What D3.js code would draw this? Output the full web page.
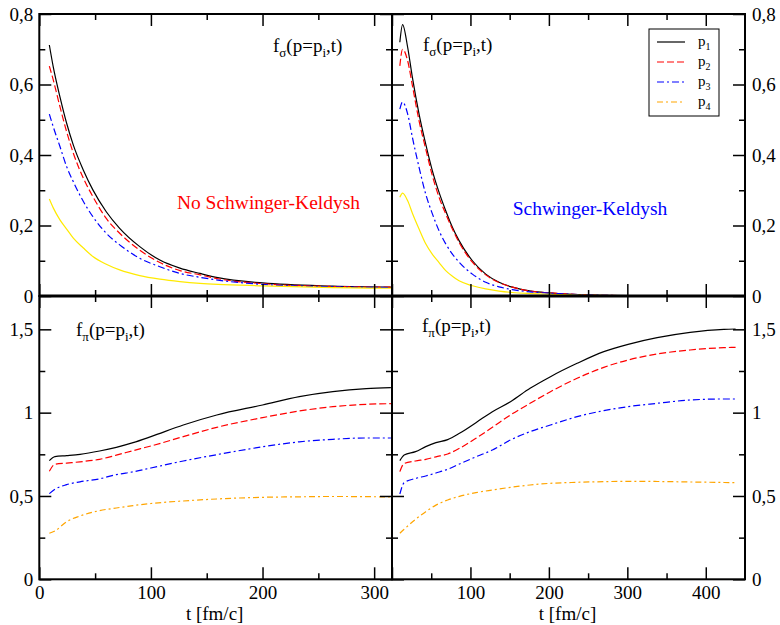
<!DOCTYPE html>
<html>
<head>
<meta charset="utf-8">
<script src="https://cdn.jsdelivr.net/npm/d3@7"></script>
<style>
  body { margin: 0; background: #fff; }
  svg text { font-family: "Liberation Serif", "Times New Roman", serif; }
</style>
</head>
<body>
<svg id="chart" width="780" height="625" font-family="Liberation Serif, serif"></svg>
<script>
// ---- data ----
// f_sigma, no Schwinger-Keldysh (top left)
const tSigmaNoSK = [9, 12.5, 18.5, 24.5, 30.5, 39.5, 48, 60, 72, 90, 108, 126, 144, 160, 200, 263, 315];
const sigmaNoSK_p1 = [0.712, 0.65, 0.565, 0.49, 0.428, 0.357, 0.301, 0.239, 0.192, 0.14, 0.102, 0.079, 0.064, 0.052, 0.037, 0.028, 0.025];
const sigmaNoSK_p2 = [0.652, 0.613, 0.537, 0.466, 0.405, 0.334, 0.282, 0.22, 0.178, 0.13, 0.095, 0.072, 0.06, 0.049, 0.035, 0.027, 0.025];
const sigmaNoSK_p3 = [0.516, 0.48, 0.424, 0.367, 0.324, 0.268, 0.225, 0.178, 0.145, 0.107, 0.083, 0.064, 0.053, 0.045, 0.033, 0.026, 0.024];
const sigmaNoSK_p4 = [0.275, 0.25, 0.216, 0.19, 0.164, 0.136, 0.112, 0.09, 0.074, 0.058, 0.048, 0.041, 0.036, 0.033, 0.029, 0.024, 0.022];

// f_sigma, Schwinger-Keldysh (top right)
const tSigmaSK = [10, 13.5, 20, 26, 34.5, 43, 51.5, 60, 68.5, 77, 85.5, 102.5, 119.5, 136.5, 153.5, 179, 200, 250, 300, 350, 438];
const sigmaSK_p1 = [0.72, 0.77, 0.705, 0.62, 0.516, 0.431, 0.355, 0.294, 0.242, 0.195, 0.157, 0.1, 0.062, 0.039, 0.025, 0.013, 0.009, 0.003, 0.001, 0.0005, 0];
const sigmaSK_p2 = [0.653, 0.70, 0.667, 0.597, 0.497, 0.417, 0.341, 0.28, 0.233, 0.19, 0.152, 0.096, 0.06, 0.038, 0.025, 0.013, 0.009, 0.003, 0.001, 0.0005, 0];
const sigmaSK_p3 = [0.53, 0.55, 0.516, 0.45, 0.365, 0.289, 0.233, 0.185, 0.148, 0.119, 0.096, 0.062, 0.039, 0.026, 0.018, 0.011, 0.008, 0.003, 0.001, 0.0005, 0];
const sigmaSK_p4 = [0.28, 0.292, 0.27, 0.235, 0.19, 0.148, 0.118, 0.095, 0.072, 0.056, 0.043, 0.029, 0.02, 0.014, 0.01, 0.007, 0.005, 0.002, 0.001, 0.0005, 0];

// f_pi, no Schwinger-Keldysh (bottom left)
const tPiNoSK = [9, 14, 24.5, 36.5, 54, 69, 84, 100, 129, 159, 200, 233, 263, 293, 315];
const piNoSK_p1 = [0.712, 0.736, 0.742, 0.75, 0.77, 0.792, 0.82, 0.856, 0.926, 0.986, 1.046, 1.096, 1.126, 1.144, 1.15];
const piNoSK_p2 = [0.648, 0.69, 0.697, 0.705, 0.72, 0.745, 0.772, 0.80, 0.856, 0.912, 0.97, 1.01, 1.036, 1.05, 1.054];
const piNoSK_p3 = [0.514, 0.54, 0.568, 0.585, 0.603, 0.628, 0.645, 0.668, 0.71, 0.748, 0.795, 0.825, 0.84, 0.848, 0.848];
const piNoSK_p4 = [0.276, 0.29, 0.346, 0.38, 0.412, 0.428, 0.442, 0.455, 0.47, 0.482, 0.492, 0.495, 0.497, 0.496, 0.494];

// f_pi, Schwinger-Keldysh (bottom right)
const tPiSK = [10, 15.5, 30, 43, 56, 71, 86, 107, 128, 151, 176, 202, 236, 270, 301, 338, 380, 423, 438];
const piSK_p1 = [0.712, 0.746, 0.766, 0.796, 0.82, 0.838, 0.876, 0.94, 1.006, 1.066, 1.146, 1.216, 1.296, 1.366, 1.41, 1.45, 1.482, 1.5, 1.502];
const piSK_p2 = [0.646, 0.695, 0.71, 0.72, 0.735, 0.752, 0.786, 0.846, 0.912, 0.986, 1.056, 1.126, 1.206, 1.272, 1.316, 1.352, 1.376, 1.39, 1.392];
const piSK_p3 = [0.512, 0.58, 0.605, 0.62, 0.638, 0.66, 0.692, 0.735, 0.776, 0.836, 0.886, 0.926, 0.976, 1.012, 1.036, 1.056, 1.076, 1.082, 1.082];
const piSK_p4 = [0.276, 0.30, 0.36, 0.406, 0.445, 0.476, 0.498, 0.52, 0.536, 0.552, 0.566, 0.576, 0.582, 0.586, 0.588, 0.587, 0.584, 0.581, 0.58];

const legendNames = ["1", "2", "3", "4"];

// ---- layout ----
const plotLeft = 39.3, plotMid = 392, plotRight = 745;
const plotTop = 14, plotHMid = 296, plotBottom = 579.3;
const serif = '"Liberation Serif", "Times New Roman", serif';

const svg = d3.select("#chart");

const xLeft = d3.scaleLinear().domain([0, 316]).range([plotLeft, plotMid]);
const xRight = d3.scaleLinear().domain([0, 450]).range([plotMid, plotRight]);
const ySigma = d3.scaleLinear().domain([0, 0.8]).range([plotHMid, plotTop]);
const yPi = d3.scaleLinear().domain([0, 1.7]).range([plotBottom, plotHMid]);

const lineStyles = [
  { color: "#000000", dash: null },
  { color: "#ff0000", dash: "7,3" },
  { color: "#0000ff", dash: "7,3,2,3" },
  { color: "#ffa500", dash: "6,3,2,3" }
];
const yellow = { color: "#ffea00", dash: null };

const comma = d => String(+d.toFixed(2)).replace(".", ",");

const panels = [
  { id: "tl", x: xLeft, y: ySigma, t: tSigmaNoSK, series: [sigmaNoSK_p1, sigmaNoSK_p2, sigmaNoSK_p3, sigmaNoSK_p4], upper: true, side: "left" },
  { id: "tr", x: xRight, y: ySigma, t: tSigmaSK, series: [sigmaSK_p1, sigmaSK_p2, sigmaSK_p3, sigmaSK_p4], upper: true, side: "right" },
  { id: "bl", x: xLeft, y: yPi, t: tPiNoSK, series: [piNoSK_p1, piNoSK_p2, piNoSK_p3, piNoSK_p4], upper: false, side: "left" },
  { id: "br", x: xRight, y: yPi, t: tPiSK, series: [piSK_p1, piSK_p2, piSK_p3, piSK_p4], upper: false, side: "right" }
];

const fontSize = 19;

function styleAxis(g) {
  g.attr("font-family", null);
  g.select(".domain").remove();
  g.selectAll(".tick line").attr("stroke", "#000").attr("stroke-width", 1.5);
  g.selectAll("text")
    .attr("font-size", fontSize)
    .attr("fill", "#000")
    .style("font-family", serif);
}

function addAxis(axisFn, scale, transform, major, minor, fmt, padding) {
  const g = svg.append("g").attr("transform", transform);
  g.call(axisFn(scale).tickValues(major).tickSize(-12).tickSizeOuter(0)
      .tickPadding(padding || 6).tickFormat(fmt || (() => "")));
  styleAxis(g);
  const gm = svg.append("g").attr("transform", transform);
  gm.call(axisFn(scale).tickValues(minor).tickSize(-6).tickSizeOuter(0).tickFormat(() => ""));
  styleAxis(gm);
}

panels.forEach(p => {
  const [x0, x1] = p.x.range();
  const [y1, y0] = p.y.range();

  // clip so curves stay inside the frame
  svg.append("clipPath").attr("id", "clip-" + p.id)
    .append("rect").attr("x", x0).attr("y", y0).attr("width", x1 - x0).attr("height", y1 - y0);

  const line = d3.line()
    .x((d, i) => p.x(p.t[i]))
    .y(d => p.y(d))
    .curve(d3.curveMonotoneX);

  const g = svg.append("g").attr("clip-path", `url(#clip-${p.id})`);
  p.series.forEach((vals, i) => {
    const st = (p.upper && i === 3) ? yellow : lineStyles[i];
    g.append("path")
      .datum(vals)
      .attr("fill", "none")
      .attr("stroke", st.color)
      .attr("stroke-width", 1.2)
      .attr("stroke-dasharray", st.dash)
      .attr("d", line);
  });

  // major ticks every 100 / minor every 50 on x
  const xMax = p.x.domain()[1];
  const xMajor = d3.range(0, xMax + 1, 100);
  const xMinor = d3.range(50, xMax, 100);
  const yMax = p.y.domain()[1];
  const yStep = p.upper ? 0.2 : 0.5;
  const yMajor = d3.range(0, yMax + 1e-6, yStep).map(v => +v.toFixed(2));
  const yMinor = d3.range(yStep / 2, yMax, yStep).map(v => +v.toFixed(3));

  addAxis(d3.axisTop, p.x, `translate(0,${y0})`, xMajor, xMinor);
  let xFmt = null;
  if (!p.upper) xFmt = p.side === "right" ? (d => d === 0 ? "" : d) : (d => d);
  addAxis(d3.axisBottom, p.x, `translate(0,${y1})`, xMajor, xMinor, xFmt, 6);

  addAxis(d3.axisLeft, p.y, `translate(${x0},0)`, yMajor, yMinor,
    p.side === "left" ? comma : null, 6);
  addAxis(d3.axisRight, p.y, `translate(${x1},0)`, yMajor, yMinor,
    p.side === "right" ? comma : null, 7);

  svg.append("rect")
    .attr("x", x0).attr("y", y0).attr("width", x1 - x0).attr("height", y1 - y0)
    .attr("fill", "none").attr("stroke", "#000").attr("stroke-width", 2);
});

// thicker shared line between the rows
svg.append("line").attr("x1", plotLeft).attr("x2", plotRight).attr("y1", plotHMid).attr("y2", plotHMid)
  .attr("stroke", "#000").attr("stroke-width", 3);

// ---- panel annotations ----
function fLabel(x, y, sub) {
  const t = svg.append("text").attr("x", x).attr("y", y).attr("font-size", fontSize)
    .attr("fill", "#000").style("font-family", serif);
  t.append("tspan").text("f");
  t.append("tspan").attr("font-size", 13).attr("dy", 5).text(sub);
  t.append("tspan").attr("dy", -5).text("(p=p");
  t.append("tspan").attr("font-size", 13).attr("dy", 5).text("i");
  t.append("tspan").attr("dy", -5).text(",t)");
}
fLabel(273, 52, "σ");
fLabel(423, 51, "σ");
fLabel(76, 336, "π");
fLabel(422, 332, "π");

svg.append("text").attr("x", 268.5).attr("y", 209).attr("text-anchor", "middle")
  .attr("font-size", 19.5).attr("fill", "#ff0000").style("font-family", serif).text("No Schwinger-Keldysh");
svg.append("text").attr("x", 590).attr("y", 215).attr("text-anchor", "middle")
  .attr("font-size", 19.5).attr("fill", "#0000ff").style("font-family", serif).text("Schwinger-Keldysh");

// x axis titles
[xLeft, xRight].forEach(sc => {
  const [a, b] = sc.range();
  svg.append("text").attr("x", (a + b) / 2 - 1).attr("y", 620).attr("text-anchor", "middle")
    .attr("font-size", fontSize).attr("fill", "#000").style("font-family", serif).text("t [fm/c]");
});

// ---- legend ----
const legend = svg.append("g");
legend.append("rect").attr("x", 649).attr("y", 29).attr("width", 70).attr("height", 87)
  .attr("fill", "#fff").attr("stroke", "#000").attr("stroke-width", 1);
legendNames.forEach((name, i) => {
  const yy = 42 + i * 20;
  const st = lineStyles[i];
  legend.append("line").attr("x1", 657).attr("x2", 685).attr("y1", yy).attr("y2", yy)
    .attr("stroke", st.color).attr("stroke-width", 1.2).attr("stroke-dasharray", st.dash);
  const t = legend.append("text").attr("x", 698).attr("y", yy + 4).attr("font-size", 15)
    .attr("fill", "#000").style("font-family", serif);
  t.append("tspan").text("p");
  t.append("tspan").attr("font-size", 10).attr("dy", 4).text(name);
});
</script>
</body>
</html>
